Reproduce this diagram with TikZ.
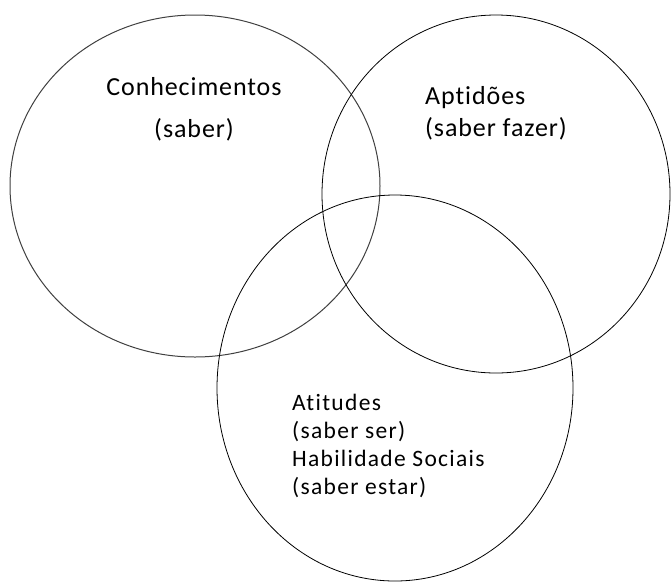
\documentclass[tikz,border=0pt]{standalone}
\usepackage{fontspec}
\setmainfont{Carlito}[Ligatures=NoCommon]
\newfontfamily\topfont{Carlito}[Ligatures=NoCommon, LetterSpace=3.5]
\newfontfamily\botfont{Carlito}[Ligatures=NoCommon, LetterSpace=5.5]
\usetikzlibrary{shapes.geometric}

\begin{document}
\begin{tikzpicture}[x=1pt, y=-1pt,
    area/.style={ellipse, draw=black, line width=0.8pt, inner sep=0pt},
    toplabel/.style={font=\topfont\fontsize{26}{32}\selectfont, inner sep=0pt},
    botlabel/.style={font=\botfont\fontsize{23.5}{28}\selectfont, align=left, inner sep=0pt}
]
    \useasboundingbox (0,0) rectangle (671,582);
    \node[area, draw=black!75, line width=1pt, minimum width=370pt, minimum height=342pt] (saber) at (195,186) {};
    \node[area, minimum width=348pt, minimum height=358pt] (fazer) at (496,194) {};
    \node[area, minimum width=356pt, minimum height=386pt] (ser) at (395,388) {};
    \node[toplabel, align=center] (conhec) at (194,109) {Conhecimentos\\[10pt](saber)};
    \node[toplabel, align=left, anchor=west] (aptid) at (425,113) {Aptidões\\(saber fazer)};
    \node[botlabel, anchor=west] (atit) at (292,446) {Atitudes\\(saber ser)\\Habilidade Sociais\\(saber estar)};
\end{tikzpicture}
\end{document}
